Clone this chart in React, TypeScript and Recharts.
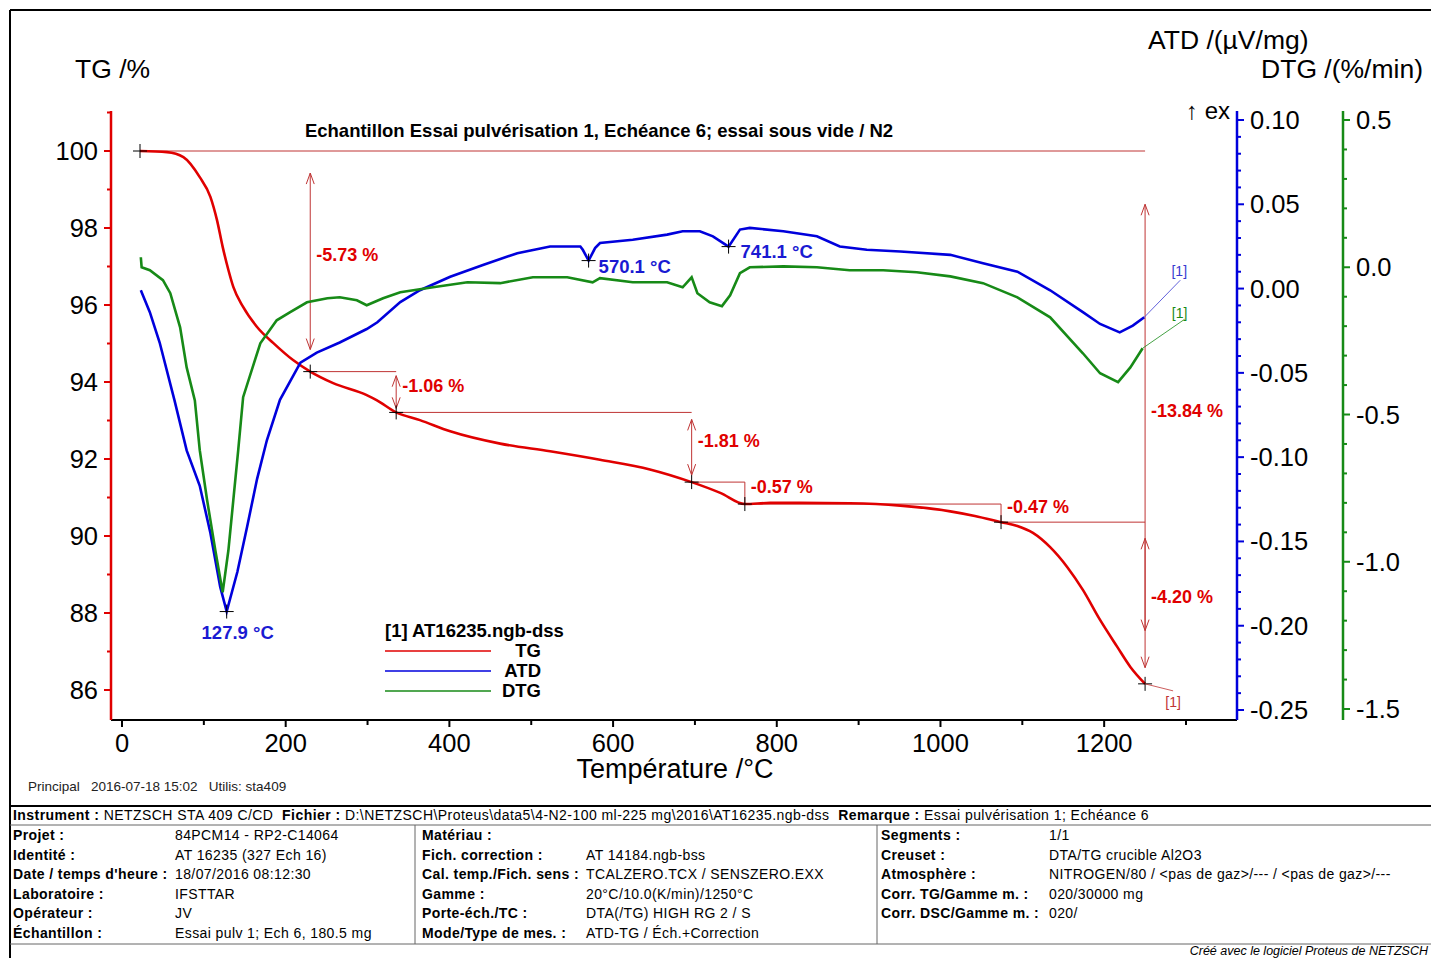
import React from 'react';
import { LineChart, Line, XAxis, YAxis, ReferenceLine, ReferenceDot, Legend } from 'recharts';

const RED = '#e00000';
const BLUE = '#0000dc';
const GREEN = '#178a17';
const ANN = '#bf3434';
const FONT = '"Liberation Sans", Arial, Helvetica, sans-serif';

// ---------- data ----------
const seriesNames = ['TG', 'ATD', 'DTG'];

const tgTemp = [22, 55, 75, 95, 108, 116, 123, 130, 136, 148, 165, 185, 209, 230, 258, 299, 311, 335, 364, 401, 462, 523, 584, 645, 696, 731, 761, 792, 828, 889, 951, 1012, 1042, 1074, 1094, 1113, 1134, 1155, 1174, 1195, 1216, 1232, 1250];
const tgVals = [100.0, 99.97, 99.84, 99.32, 98.81, 98.21, 97.51, 96.91, 96.47, 95.95, 95.43, 95.01, 94.57, 94.27, 93.97, 93.66, 93.53, 93.21, 93.01, 92.72, 92.4, 92.2, 91.98, 91.73, 91.4, 91.12, 90.83, 90.86, 90.86, 90.85, 90.79, 90.64, 90.52, 90.36, 90.26, 90.08, 89.71, 89.19, 88.6, 87.82, 87.12, 86.6, 86.16];

const atdTemp = [23, 34, 46, 64, 79, 95, 108, 120, 127.9, 141, 153, 165, 177, 193, 218, 238, 266, 299, 312, 340, 364, 401, 441, 483, 523, 560, 563, 570.1, 578, 584, 624, 666, 685, 706, 722, 741.1, 755, 767, 808, 849, 877, 910, 951, 1012, 1052, 1094, 1134, 1174, 1195, 1219, 1235, 1249];
const atdVals = [-0.001, -0.014, -0.032, -0.066, -0.096, -0.117, -0.145, -0.177, -0.1916, -0.168, -0.141, -0.113, -0.09, -0.066, -0.044, -0.038, -0.032, -0.024, -0.02, -0.008, -0.001, 0.007, 0.014, 0.021, 0.025, 0.025, 0.023, 0.0166, 0.024, 0.027, 0.029, 0.032, 0.034, 0.034, 0.031, 0.0249, 0.035, 0.036, 0.034, 0.031, 0.025, 0.023, 0.022, 0.02, 0.015, 0.01, -0.001, -0.014, -0.021, -0.026, -0.022, -0.017];

const dtgTemp = [23, 24, 34, 50, 59, 71, 79, 89, 95, 104, 114, 123, 130, 136, 142, 148, 169, 189, 205, 226, 251, 266, 287, 299, 319, 340, 380, 422, 462, 502, 544, 575, 584, 624, 666, 685, 696, 703, 718, 733, 743, 755, 767, 808, 849, 889, 930, 971, 1012, 1052, 1094, 1134, 1174, 1195, 1217, 1232, 1247];
const dtgVals = [0.034, 0.0, -0.01, -0.044, -0.088, -0.204, -0.34, -0.452, -0.621, -0.791, -0.961, -1.104, -0.961, -0.791, -0.621, -0.441, -0.258, -0.18, -0.153, -0.119, -0.105, -0.102, -0.112, -0.129, -0.105, -0.085, -0.068, -0.051, -0.054, -0.034, -0.034, -0.051, -0.037, -0.051, -0.051, -0.068, -0.034, -0.088, -0.119, -0.132, -0.095, -0.02, 0.0, 0.003, 0.0, -0.01, -0.01, -0.017, -0.031, -0.054, -0.102, -0.17, -0.292, -0.36, -0.39, -0.34, -0.275];

// mass-loss steps (TG)
const stepTemps = [22, 230, 335, 696, 761, 1074, 1250];
const stepVals = [100.0, 94.27, 93.21, 91.4, 90.83, 90.36, 86.16];
const stepLabels = ['-5.73 %', '-1.06 %', '-1.81 %', '-0.57 %', '-0.47 %', '-4.20 %'];
const totalLabel = '-13.84 %';

// ATD peaks
const atdPeakTemps = [127.9, 570.1, 741.1];
const atdPeakVals = [-0.1916, 0.0166, 0.0249];
const atdPeakLabels = ['127.9 °C', '570.1 °C', '741.1 °C'];

// axis ticks
const xTicks = [0, 100, 200, 300, 400, 500, 600, 700, 800, 900, 1000, 1100, 1200, 1300];
const tgTicks = [86, 87, 88, 89, 90, 91, 92, 93, 94, 95, 96, 97, 98, 99, 100, 101];
const atdTicks = [-0.25, -0.24, -0.23, -0.22, -0.21, -0.2, -0.19, -0.18, -0.17, -0.16, -0.15, -0.14, -0.13, -0.12, -0.11, -0.1, -0.09, -0.08, -0.07, -0.06, -0.05, -0.04, -0.03, -0.02, -0.01, 0, 0.01, 0.02, 0.03, 0.04, 0.05, 0.06, 0.07, 0.08, 0.09, 0.1];
const dtgTicks = [-1.5, -1.4, -1.3, -1.2, -1.1, -1.0, -0.9, -0.8, -0.7, -0.6, -0.5, -0.4, -0.3, -0.2, -0.1, 0, 0.1, 0.2, 0.3, 0.4, 0.5];

// info table
const headerItems = [
  ['Instrument :', 'NETZSCH STA 409 C/CD'],
  ['Fichier :', 'D:\\NETZSCH\\Proteus\\data5\\4-N2-100 ml-225 mg\\2016\\AT16235.ngb-dss'],
  ['Remarque :', 'Essai pulvérisation 1; Echéance 6'],
];
const col1 = [
  ['Projet :', '84PCM14 - RP2-C14064'],
  ['Identité :', 'AT 16235 (327 Ech 16)'],
  ["Date / temps d'heure :", '18/07/2016 08:12:30'],
  ['Laboratoire :', 'IFSTTAR'],
  ['Opérateur :', 'JV'],
  ['Échantillon :', 'Essai pulv 1; Ech 6, 180.5 mg'],
];
const col2 = [
  ['Matériau :', ''],
  ['Fich. correction :', 'AT 14184.ngb-bss'],
  ['Cal. temp./Fich. sens :', 'TCALZERO.TCX / SENSZERO.EXX'],
  ['Gamme :', '20°C/10.0(K/min)/1250°C'],
  ['Porte-éch./TC :', 'DTA(/TG) HIGH RG 2 / S'],
  ['Mode/Type de mes. :', 'ATD-TG / Éch.+Correction'],
];
const col3 = [
  ['Segments :', '1/1'],
  ['Creuset :', 'DTA/TG crucible Al2O3'],
  ['Atmosphère :', 'NITROGEN/80 / <pas de gaz>/--- / <pas de gaz>/---'],
  ['Corr. TG/Gamme m. :', '020/30000 mg'],
  ['Corr. DSC/Gamme m. :', '020/'],
];

const tgData = tgTemp.map((t, i) => ({ t, v: tgVals[i] }));
const atdData = atdTemp.map((t, i) => ({ t, v: atdVals[i] }));
const dtgData = dtgTemp.map((t, i) => ({ t, v: dtgVals[i] }));

// ---------- helpers ----------
const Txt = ({ x, y, size = 14, bold = false, italic = false, anchor = 'start', color = '#000', spacing = 0, children }: any) => {
  const tx = anchor === 'end' ? '-100%' : anchor === 'middle' ? '-50%' : '0';
  return (
    <div
      style={{
        position: 'absolute', left: x, top: y, transform: `translate(${tx}, -50%)`,
        fontSize: size, fontWeight: bold ? 'bold' : 'normal', fontStyle: italic ? 'italic' : 'normal',
        color, whiteSpace: 'nowrap', lineHeight: 1.15, letterSpacing: spacing, fontFamily: FONT,
      }}
    >
      {children}
    </div>
  );
};

function makeYTick(color: string, side: 'left' | 'right', isMajor: (v: number) => boolean, fmt: (v: number) => string) {
  return (props: any) => {
    const { x, y, payload } = props;
    const v = payload.value;
    const major = isMajor(v);
    const dir = side === 'left' ? -1 : 1;
    const len = major ? 7 : 4;
    return (
      <g>
        <line x1={x} y1={y} x2={x + dir * len} y2={y} stroke={color} strokeWidth={2} />
        {major && (
          <text x={x + dir * 13} y={y} textAnchor={side === 'left' ? 'end' : 'start'} dominantBaseline="central"
            fontSize={25.5} fontFamily={FONT} fill="#000">{fmt(v)}</text>
        )}
      </g>
    );
  };
}

const tgTick = makeYTick(RED, 'left', (v) => Math.round(v) % 2 === 0 && v <= 100, (v) => String(v));
const atdTick = makeYTick(BLUE, 'right', (v) => Math.round(v * 100) % 5 === 0, (v) => (Math.abs(v) < 1e-9 ? '0.00' : v.toFixed(2)));
const dtgTick = makeYTick(GREEN, 'right', (v) => Math.round(v * 10) % 5 === 0, (v) => (Math.abs(v) < 1e-9 ? '0.0' : v.toFixed(1)));

const XTick = (props: any) => {
  const { x, y, payload } = props;
  const major = payload.value % 200 === 0;
  return (
    <g>
      <line x1={x} y1={y} x2={x} y2={y + (major ? 7 : 5)} stroke="#000" strokeWidth={2} />
      {major && (
        <text x={x} y={y + 23} textAnchor="middle" dominantBaseline="central" fontSize={25.5} fontFamily={FONT} fill="#000">
          {payload.value}
        </text>
      )}
    </g>
  );
};

const ArrowShape = (props: any) => {
  const { x1, y1, y2 } = props;
  const top = Math.min(y1, y2);
  const bot = Math.max(y1, y2);
  const len = bot - top;
  if (len < 30) return <line x1={x1} y1={top} x2={x1} y2={bot} stroke={ANN} strokeWidth={1} />;
  const a = top + len * 0.1;
  const b = bot - len * 0.1;
  return (
    <g stroke={ANN} strokeWidth={1} fill="none">
      <line x1={x1} y1={a} x2={x1} y2={b} />
      <polyline points={`${x1 - 4},${a + 11} ${x1},${a} ${x1 + 4},${a + 11}`} />
      <polyline points={`${x1 - 4},${b - 11} ${x1},${b} ${x1 + 4},${b - 11}`} />
    </g>
  );
};

const Cross = ({ cx, cy }: any) => (
  <g stroke="#000" strokeWidth={1}>
    <line x1={cx - 7} y1={cy} x2={cx + 7} y2={cy} />
    <line x1={cx} y1={cy - 7} x2={cx} y2={cy + 7} />
  </g>
);

const stepLabelShape = (text: string) => (props: any) => (
  <text x={props.cx + 6} y={props.cy - 6} dominantBaseline="central" fontSize={18} fontWeight="bold" fontFamily={FONT} fill={RED}>
    {text}
  </text>
);

const peakShape = (text: string, dx: number, dy: number, anchor: string) => (props: any) => (
  <g>
    <Cross cx={props.cx} cy={props.cy} />
    <text x={props.cx + dx} y={props.cy + dy} textAnchor={anchor} dominantBaseline="central" fontSize={18.5} fontWeight="bold" fontFamily={FONT} fill="#1a1ad2">
      {text}
    </text>
  </g>
);

const endTag = (color: string, lx: number, ly: number, tx: number, ty: number) => (props: any) => (
  <g>
    <line x1={props.cx} y1={props.cy} x2={props.cx + lx} y2={props.cy + ly} stroke={color} strokeWidth={0.8} />
    <text x={props.cx + tx} y={props.cy + ty} textAnchor="middle" dominantBaseline="central" fontSize={14} fontFamily={FONT} fill={color}>
      [1]
    </text>
  </g>
);

const renderLegend = (props: any) => {
  const payload = [...(props.payload || [])].sort(
    (a: any, b: any) => seriesNames.indexOf(a.value) - seriesNames.indexOf(b.value)
  );
  return (
    <div style={{ fontFamily: FONT, fontWeight: 'bold', fontSize: 18.5, color: '#000', width: 200 }}>
      <div style={{ height: 21, lineHeight: '21px', whiteSpace: 'nowrap' }}>[1] AT16235.ngb-dss</div>
      {payload.map((p: any) => (
        <div key={p.value} style={{ position: 'relative', height: 20, width: 156 }}>
          <svg width={110} height={20} style={{ position: 'absolute', left: 0, top: 0 }}>
            <line x1={0} x2={106} y1={10} y2={10} stroke={p.color} strokeWidth={1.3} />
          </svg>
          <span style={{ position: 'absolute', right: 0, top: 0, lineHeight: '20px' }}>{p.value}</span>
        </div>
      ))}
    </div>
  );
};

export default function App() {
  const midTotal = (stepVals[0] + stepVals[stepVals.length - 1]) / 2;
  const lastT = stepTemps[stepTemps.length - 1];
  return (
    <div style={{ position: 'absolute', left: 0, top: 0, width: 1431, height: 958, overflow: 'hidden', background: '#fff', fontFamily: FONT }}>
      {/* frame */}
      <svg width={1431} height={958} style={{ position: 'absolute', left: 0, top: 0 }}>
        <line x1={10} y1={10} x2={1431} y2={10} stroke="#000" strokeWidth={2} />
        <line x1={10} y1={10} x2={10} y2={958} stroke="#000" strokeWidth={2} />
        <line x1={10} y1={806} x2={1431} y2={806} stroke="#000" strokeWidth={2} />
        <line x1={10} y1={825} x2={1431} y2={825} stroke="#666" strokeWidth={1} />
        <line x1={415} y1={825} x2={415} y2={944} stroke="#666" strokeWidth={1} />
        <line x1={877} y1={825} x2={877} y2={944} stroke="#666" strokeWidth={1} />
        <line x1={10} y1={944} x2={1431} y2={944} stroke="#666" strokeWidth={1} />
      </svg>

      <div style={{ position: 'absolute', left: 0, top: 0 }}>
        <LineChart width={1431} height={800} margin={{ top: 111, right: 18, bottom: 20, left: 51 }}>
          <XAxis dataKey="t" type="number" domain={[-13.44, 1362.3]} allowDataOverflow ticks={xTicks} interval={0}
            height={60} tickSize={0} tickMargin={0} tickLine={false} tick={XTick}
            axisLine={{ stroke: '#000', strokeWidth: 2 }} />
          <YAxis yAxisId="tg" orientation="left" type="number" domain={[85.221, 101.039]} allowDataOverflow ticks={tgTicks}
            interval={0} width={60} tickSize={0} tickMargin={0} tickLine={false} tick={tgTick}
            axisLine={{ stroke: RED, strokeWidth: 2.5 }} />
          <YAxis yAxisId="atd" orientation="right" type="number" domain={[-0.25593, 0.10534]} allowDataOverflow ticks={atdTicks}
            interval={0} width={106} tickSize={0} tickMargin={0} tickLine={false} tick={atdTick}
            axisLine={{ stroke: BLUE, strokeWidth: 2.5 }} />
          <YAxis yAxisId="dtg" orientation="right" type="number" domain={[-1.5373, 0.5306]} allowDataOverflow ticks={dtgTicks}
            interval={0} width={70} tickSize={0} tickMargin={0} tickLine={false} tick={dtgTick}
            axisLine={{ stroke: GREEN, strokeWidth: 2.5 }} />

          {/* annotations: TG steps */}
          <ReferenceLine yAxisId="tg" segment={[{ x: stepTemps[0], y: stepVals[0] }, { x: lastT, y: stepVals[0] }]} stroke={ANN} strokeWidth={1} />
          {stepVals.slice(1, -1).map((v, i) => (
            <ReferenceLine key={`h${i}`} yAxisId="tg" segment={[{ x: stepTemps[i + 1], y: v }, { x: stepTemps[i + 2], y: v }]} stroke={ANN} strokeWidth={1} />
          ))}
          {stepLabels.map((_, i) => (
            <ReferenceLine key={`a${i}`} yAxisId="tg" segment={[{ x: stepTemps[i + 1], y: stepVals[i] }, { x: stepTemps[i + 1], y: stepVals[i + 1] }]}
              stroke={ANN} shape={ArrowShape} />
          ))}
          <ReferenceLine yAxisId="tg" segment={[{ x: lastT, y: stepVals[0] }, { x: lastT, y: stepVals[stepVals.length - 1] }]} stroke={ANN} shape={ArrowShape} />
          {stepLabels.map((lab, i) => (
            <ReferenceDot key={`l${i}`} yAxisId="tg" x={stepTemps[i + 1]} y={(stepVals[i] + stepVals[i + 1]) / 2} r={0} shape={stepLabelShape(lab)} />
          ))}
          <ReferenceDot yAxisId="tg" x={lastT} y={midTotal} r={0} shape={stepLabelShape(totalLabel)} />

          <Line yAxisId="tg" data={tgData} dataKey="v" name={seriesNames[0]} type="monotone" stroke={RED} strokeWidth={2.6} dot={false} isAnimationActive={false} />
          <Line yAxisId="atd" data={atdData} dataKey="v" name={seriesNames[1]} type="linear" stroke={BLUE} strokeWidth={2.6} dot={false} isAnimationActive={false} />
          <Line yAxisId="dtg" data={dtgData} dataKey="v" name={seriesNames[2]} type="linear" stroke={GREEN} strokeWidth={2.6} dot={false} isAnimationActive={false} />

          {stepTemps.map((t, i) => (
            <ReferenceDot key={`m${i}`} yAxisId="tg" x={t} y={stepVals[i]} r={0} shape={Cross} />
          ))}
          <ReferenceDot yAxisId="atd" x={atdPeakTemps[0]} y={atdPeakVals[0]} r={0} shape={peakShape(atdPeakLabels[0], 11, 21, 'middle')} />
          <ReferenceDot yAxisId="atd" x={atdPeakTemps[1]} y={atdPeakVals[1]} r={0} shape={peakShape(atdPeakLabels[1], 10, 6, 'start')} />
          <ReferenceDot yAxisId="atd" x={atdPeakTemps[2]} y={atdPeakVals[2]} r={0} shape={peakShape(atdPeakLabels[2], 12, 5, 'start')} />

          <ReferenceDot yAxisId="tg" x={tgTemp[tgTemp.length - 1]} y={tgVals[tgVals.length - 1]} r={0} shape={endTag(ANN, 28, 7, 28, 18)} />
          <ReferenceDot yAxisId="atd" x={atdTemp[atdTemp.length - 1]} y={atdVals[atdVals.length - 1]} r={0} shape={endTag('#3a3ad0', 36, -37, 35, -46)} />
          <ReferenceDot yAxisId="dtg" x={dtgTemp[dtgTemp.length - 1]} y={dtgVals[dtgVals.length - 1]} r={0} shape={endTag(GREEN, 42, -29, 37, -35)} />

          <Legend layout="vertical" align="center" verticalAlign="middle" content={renderLegend}
            wrapperStyle={{ left: 385, top: 620, width: 200, height: 82 }} />
        </LineChart>
      </div>

      {/* titles */}
      <Txt x={599} y={131} size={18.5} bold anchor="middle">Echantillon Essai pulvérisation 1, Echéance 6; essai sous vide / N2</Txt>
      <Txt x={75} y={69} size={26.5}>TG /%</Txt>
      <Txt x={1148} y={40} size={26.5}>ATD /(µV/mg)</Txt>
      <Txt x={1423} y={69} size={26.5} anchor="end">DTG /(%/min)</Txt>
      <Txt x={1186} y={111} size={24}>↑ ex</Txt>
      <Txt x={675} y={770} size={27} anchor="middle">Température /°C</Txt>
      <Txt x={28} y={787} size={13.5} color="#222">Principal&nbsp;&nbsp;&nbsp;2016-07-18 15:02&nbsp;&nbsp;&nbsp;Utilis: sta409</Txt>

      {/* info table */}
      <Txt x={13} y={815} size={14} spacing={0.45}>
        {headerItems.map((h, i) => (
          <span key={i}>
            <b>{h[0]}</b> {h[1]}{i < headerItems.length - 1 ? '\u00a0 ' : ''}
          </span>
        ))}
      </Txt>
      {col1.map((r, i) => (
        <React.Fragment key={`c1${i}`}>
          <Txt x={13} y={835 + i * 19.6} size={14} bold spacing={0.4}>{r[0]}</Txt>
          <Txt x={175} y={835 + i * 19.6} size={14} spacing={0.4}>{r[1]}</Txt>
        </React.Fragment>
      ))}
      {col2.map((r, i) => (
        <React.Fragment key={`c2${i}`}>
          <Txt x={422} y={835 + i * 19.6} size={14} bold spacing={0.4}>{r[0]}</Txt>
          <Txt x={586} y={835 + i * 19.6} size={14} spacing={0.4}>{r[1]}</Txt>
        </React.Fragment>
      ))}
      {col3.map((r, i) => (
        <React.Fragment key={`c3${i}`}>
          <Txt x={881} y={835 + i * 19.6} size={14} bold spacing={0.4}>{r[0]}</Txt>
          <Txt x={1049} y={835 + i * 19.6} size={14} spacing={0.4}>{r[1]}</Txt>
        </React.Fragment>
      ))}
      <Txt x={1428} y={951} size={12.5} italic anchor="end">Créé avec le logiciel Proteus de NETZSCH</Txt>
    </div>
  );
}
